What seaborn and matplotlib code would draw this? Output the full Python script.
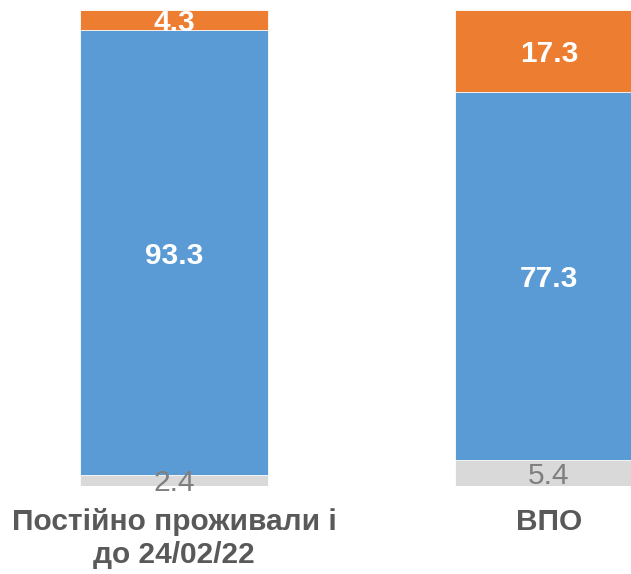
import matplotlib
matplotlib.use("Agg")
import matplotlib.pyplot as plt
import numpy as np
import pandas as pd
import seaborn as sns

# дані
groups = ["Постійно проживали і\nдо 24/02/22", "ВПО"]
grey_vals = [2.4, 5.4]
blue_vals = [93.3, 77.3]
orange_vals = [4.3, 17.3]

c_grey = "#D9D9D9"
c_blue = "#5B9BD5"
c_orange = "#ED7D31"

sns.set_theme(style="white")
plt.rcParams["font.family"] = ["Liberation Sans", "DejaVu Sans"]

df = pd.DataFrame({
    "group": groups,
    "grey": grey_vals,
    "blue": blue_vals,
    "orange": orange_vals,
})
df["cum_blue"] = df["grey"] + df["blue"]
df["cum_orange"] = df["cum_blue"] + df["orange"]

fig = plt.figure(figsize=(6.31, 5.74), dpi=100)
ax = fig.add_axes([0, 88 / 574, 1, 476 / 574])

# stacked bars: cumulative totals drawn back to front
sns.barplot(data=df, x="group", y="cum_orange", color=c_orange, width=0.5,
            edgecolor="white", linewidth=0.6, saturation=1, ax=ax)
sns.barplot(data=df, x="group", y="cum_blue", color=c_blue, width=0.5,
            edgecolor="white", linewidth=0.6, saturation=1, ax=ax)
sns.barplot(data=df, x="group", y="grey", color=c_grey, width=0.5,
            edgecolor="white", linewidth=0.6, saturation=1, ax=ax)

ax.set_xlim(-174 / 375, 1 + (631 - 549) / 375)
ax.set_ylim(0, 100)

fs = 21.5
for i, row in df.iterrows():
    ax.text(i, row["grey"] / 2, f"{row['grey']:.1f}", ha="center",
            va="center_baseline", color="#7F7F7F", fontsize=fs)
    ax.text(i, row["grey"] + row["blue"] / 2, f"{row['blue']:.1f}", ha="center",
            va="center_baseline", color="white", fontsize=fs, fontweight="bold")
    ax.text(i, row["cum_blue"] + row["orange"] / 2, f"{row['orange']:.1f}",
            ha="center", va="center_baseline", color="white", fontsize=fs,
            fontweight="bold")

ax.set_xlabel("")
ax.set_ylabel("")
ax.set_yticks([])
ax.tick_params(axis="x", length=0, pad=16)
for lbl in ax.get_xticklabels():
    lbl.set_fontsize(21.5)
    lbl.set_fontweight("bold")
    lbl.set_color("#595959")
    lbl.set_verticalalignment("top")
sns.despine(ax=ax, left=True, bottom=True)

fig.savefig("out.png", dpi=100)
